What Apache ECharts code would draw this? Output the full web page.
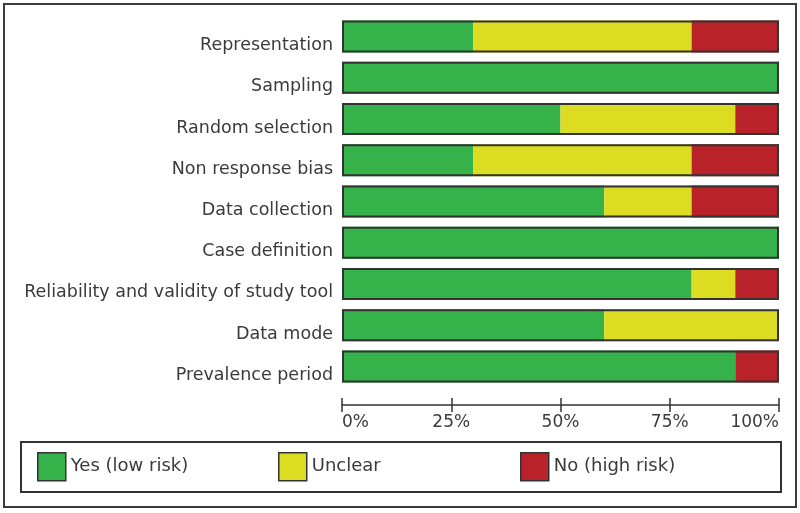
<!DOCTYPE html>
<html>
<head>
<meta charset="utf-8">
<script src="https://cdn.jsdelivr.net/npm/echarts@6/dist/echarts.min.js"></script>
<style>
html,body{margin:0;padding:0;background:#fff;}
#chart{width:800px;height:513px;}
</style>
</head>
<body>
<div id="chart"></div>
<script>
const categories = [
  'Representation',
  'Sampling',
  'Random selection',
  'Non response bias',
  'Data collection',
  'Case definition',
  'Reliability and validity of study tool',
  'Data mode',
  'Prevalence period'
];
const seriesNames = ['Yes (low risk)', 'Unclear', 'No (high risk)'];
const yesLow   = [30, 100, 50, 30, 60, 100, 80, 60, 90];
const unclear  = [50, 0, 40, 50, 20, 0, 10, 40, 0];
const noHigh   = [20, 0, 10, 20, 20, 0, 10, 0, 10];
const tickValues = [0, 25, 50, 75, 100];
const colors = ['#35b34a', '#dcdc23', '#b92228'];

const FONT = 'DejaVu Sans';
const totals = categories.map((_, i) => yesLow[i] + unclear[i] + noHigh[i]);

const chart = echarts.init(document.getElementById('chart'), null, {renderer: 'canvas'});

const baseX = {
  type: 'value', min: tickValues[0], max: tickValues[tickValues.length - 1],
  interval: tickValues[1] - tickValues[0], gridIndex: 0, position: 'bottom', offset: 18,
  splitLine: {show: false}
};

const legendLefts = [37, 278, 520];
const legends = seriesNames.map((n, i) => ({
  data: [n], left: legendLefts[i], top: 452, padding: 0,
  icon: 'rect', itemWidth: 28, itemHeight: 28, itemGap: 0,
  itemStyle: {borderColor: '#333', borderWidth: 1.5},
  textStyle: {fontFamily: FONT, fontSize: 18, color: '#3a3a3a'},
  selectedMode: false
}));

const option = {
  animation: false,
  backgroundColor: '#fff',
  graphic: [
    {type: 'rect', shape: {x: 4, y: 4, width: 792, height: 503},
     style: {fill: 'none', stroke: '#3c3c3c', lineWidth: 2}, z: 0},
    {type: 'rect', shape: {x: 21, y: 442, width: 760, height: 50},
     style: {fill: 'none', stroke: '#333', lineWidth: 2}, z: 0}
  ],
  grid: {left: 342, right: 21, top: 16, bottom: 126, containLabel: false},
  legend: legends,
  xAxis: [
    Object.assign({}, baseX, {
      axisLine: {show: true, lineStyle: {color: '#333', width: 1.5}},
      axisTick: {show: true, inside: false, length: 7, lineStyle: {color: '#333', width: 1.5}},
      axisLabel: {
        show: true, margin: 9, fontFamily: FONT, fontSize: 17, color: '#3a3a3a',
        formatter: v => v + '%', alignMinLabel: 'left', alignMaxLabel: 'right'
      }
    }),
    Object.assign({}, baseX, {
      axisLine: {show: false},
      axisTick: {show: true, inside: true, length: 7, lineStyle: {color: '#333', width: 1.5}},
      axisLabel: {show: false}
    })
  ],
  yAxis: {
    type: 'category', data: categories, inverse: true,
    axisLine: {show: false}, axisTick: {show: false}, splitLine: {show: false},
    axisLabel: {fontFamily: FONT, fontSize: 17.5, color: '#3a3a3a', margin: 9, verticalAlign: 'top'}
  },
  series: [
    {name: seriesNames[0], type: 'bar', stack: 'risk', data: yesLow, barWidth: 32,
     itemStyle: {color: colors[0]}},
    {name: seriesNames[1], type: 'bar', stack: 'risk', data: unclear, barWidth: 32,
     itemStyle: {color: colors[1]}},
    {name: seriesNames[2], type: 'bar', stack: 'risk', data: noHigh, barWidth: 32,
     itemStyle: {color: colors[2]}},
    {name: 'outline', type: 'bar', data: totals, barWidth: 32, barGap: '-100%', silent: true,
     itemStyle: {color: 'rgba(0,0,0,0)', borderColor: '#333', borderWidth: 2}, z: 5}
  ]
};
chart.setOption(option);
</script>
</body>
</html>
